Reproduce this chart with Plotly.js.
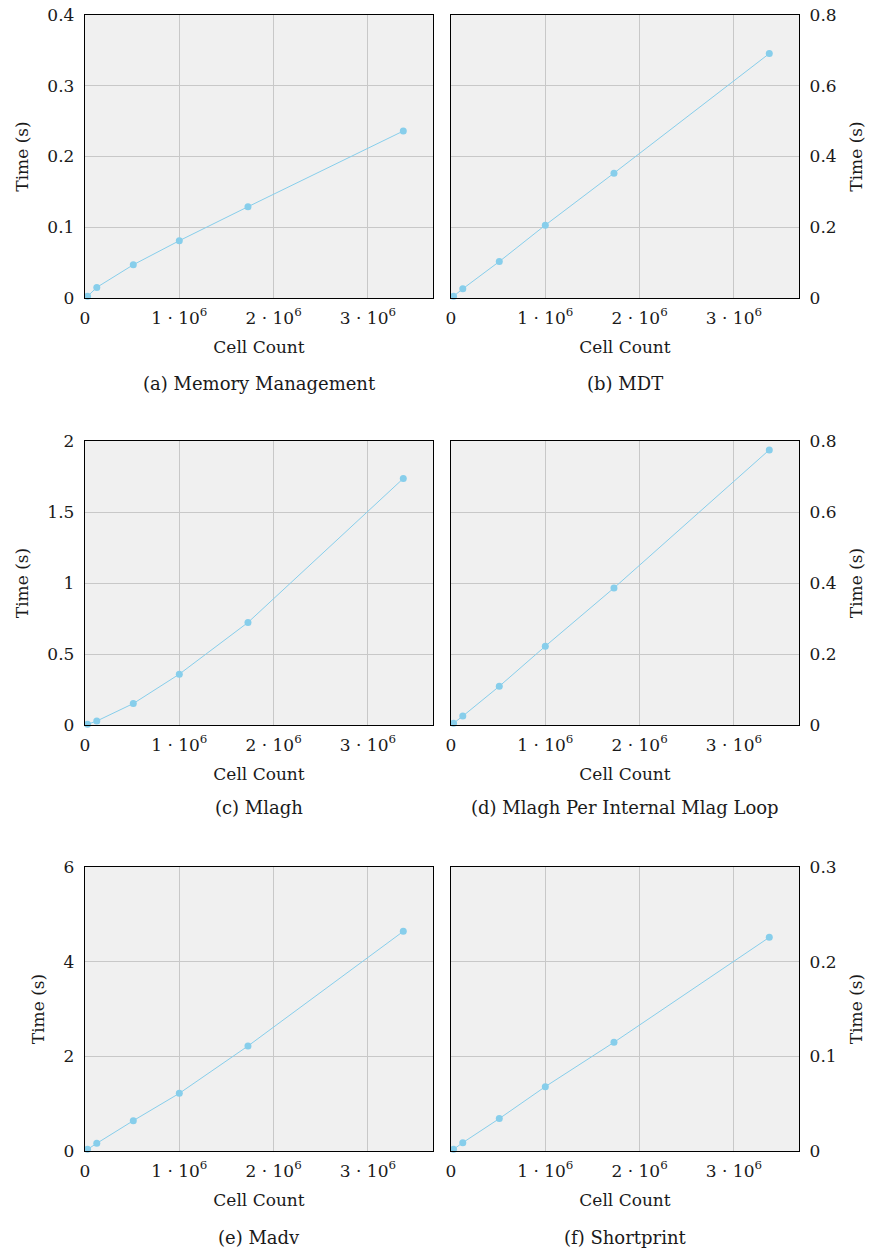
<!DOCTYPE html>
<html>
<head>
<meta charset="utf-8">
<script src="https://cdn.plot.ly/plotly-3.0.1.min.js"></script>
<style>html,body{margin:0;padding:0;background:#fff;}#chart{width:875px;height:1252px;}</style>
</head>
<body>
<div id="chart"></div>
<script>
const cellCount = [27000, 125000, 512000, 1000000, 1728000, 3375000];
const memoryManagement = [0.0024, 0.015, 0.047, 0.081, 0.129, 0.236];
const mdt = [0.005, 0.026, 0.103, 0.206, 0.353, 0.691];
const mlagh = [0.005, 0.028, 0.151, 0.358, 0.722, 1.736];
const mlaghPerLoop = [0.005, 0.025, 0.109, 0.222, 0.386, 0.775];
const madv = [0.035, 0.162, 0.641, 1.218, 2.218, 4.64];
const shortprint = [0.0018, 0.0088, 0.0342, 0.068, 0.1148, 0.2257];

const captions = ['(a) Memory Management', '(b) MDT', '(c) Mlagh', '(d) Mlagh Per Internal Mlag Loop', '(e) Madv', '(f) Shortprint'];
const seriesList = [memoryManagement, mdt, mlagh, mlaghPerLoop, madv, shortprint];
const yMax = [0.4, 0.8, 2, 0.8, 6, 0.3];
const yStep = [0.1, 0.2, 0.5, 0.2, 2, 0.1];
const xTickVals = [0, 1000000, 2000000, 3000000];
const xTickText = ['0', '1 · 10<sup>6</sup>', '2 · 10<sup>6</sup>', '3 · 10<sup>6</sup>'];
const xTitle = 'Cell Count';
const yTitle = 'Time (s)';

const W = 875, H = 1252;
const colPx = [[85, 433], [451, 799]];
const rowPx = [[15, 298], [441, 725], [867, 1151]];
const captionY = [383, 808, 1237];

const FONT = 'DejaVu Serif, serif';
const TXT = '#1a1a1a';
const color = '#87ceeb';

const traces = [];
const layout = {
  width: W, height: H,
  margin: {l: 0, r: 0, t: 0, b: 0},
  paper_bgcolor: '#ffffff',
  plot_bgcolor: '#f0f0f0',
  showlegend: false,
  font: {family: FONT, size: 17, color: TXT},
  annotations: []
};

for (let i = 0; i < 6; i++) {
  const r = Math.floor(i / 2), c = i % 2;
  const n = i + 1;
  const sfx = n === 1 ? '' : String(n);
  traces.push({
    x: cellCount, y: seriesList[i],
    xaxis: 'x' + sfx, yaxis: 'y' + sfx,
    type: 'scatter', mode: 'lines+markers',
    line: {color: color, width: 1},
    marker: {color: color, size: 7},
    cliponaxis: false
  });
  const common = {
    showline: true, linecolor: '#000', linewidth: 1.2, mirror: true,
    showgrid: true, gridcolor: '#c8c8c8', gridwidth: 1,
    zeroline: false, ticks: '', automargin: false,
    tickfont: {family: FONT, size: 17, color: TXT}
  };
  layout['xaxis' + sfx] = Object.assign({}, common, {
    domain: [colPx[c][0] / W, colPx[c][1] / W],
    anchor: 'y' + sfx,
    range: [0, 3690000],
    tickmode: 'array', tickvals: xTickVals, ticktext: xTickText,
    ticklabelstandoff: 4,
    title: {text: xTitle, font: {family: FONT, size: 17, color: TXT}, standoff: 14}
  });
  layout['yaxis' + sfx] = Object.assign({}, common, {
    domain: [1 - rowPx[r][1] / H, 1 - rowPx[r][0] / H],
    anchor: 'x' + sfx,
    range: [0, yMax[i]],
    tickmode: 'linear', tick0: 0, dtick: yStep[i],
    side: c === 0 ? 'left' : 'right',
    ticklabelstandoff: 6,
    title: {text: yTitle, font: {family: FONT, size: 17, color: TXT}, standoff: 14}
  });
  layout.annotations.push({
    text: captions[i], xref: 'paper', yref: 'paper',
    x: (colPx[c][0] + colPx[c][1]) / 2 / W, y: 1 - captionY[r] / H,
    xanchor: 'center', yanchor: 'middle', showarrow: false,
    font: {family: FONT, size: 18, color: TXT}
  });
}

Plotly.newPlot('chart', traces, layout, {displayModeBar: false, staticPlot: true});
</script>
</body>
</html>
